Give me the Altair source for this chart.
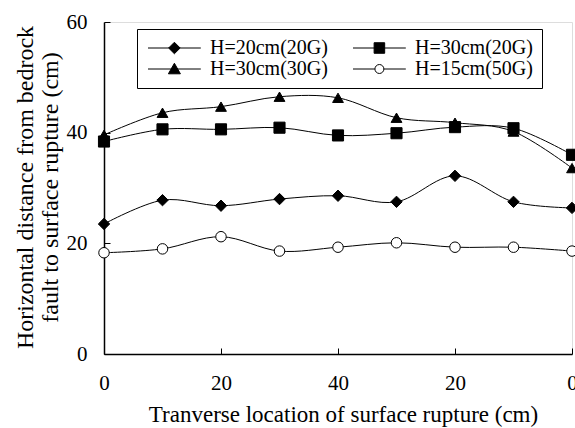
import altair as alt
import pandas as pd

x_pos = [0, 10, 20, 30, 40, 50, 60, 70, 80]
series_names = ["H=20cm(20G)", "H=30cm(20G)", "H=30cm(30G)", "H=15cm(50G)"]
h20_g20 = [23.5, 27.8, 26.8, 28.0, 28.6, 27.5, 32.2, 27.5, 26.4]
h30_g20 = [38.4, 40.6, 40.6, 40.9, 39.5, 39.9, 41.0, 40.8, 36.0]
h30_g30 = [39.6, 43.6, 44.7, 46.5, 46.3, 42.7, 41.8, 40.2, 33.6]
h15_g50 = [18.3, 19.0, 21.2, 18.6, 19.3, 20.1, 19.3, 19.3, 18.6]
x_ticks = [0, 20, 40, 60, 80]
y_ticks = [0, 20, 40, 60]

rows = []
for name, vals in zip(series_names, [h20_g20, h30_g20, h30_g30, h15_g50]):
    for xv, yv in zip(x_pos, vals):
        rows.append({"x": xv, "y": yv, "series": name})
df = pd.DataFrame(rows)

FONT = "Liberation Serif"

plain_shapes = ["diamond", "square", "triangle-up", "circle"]
fills = ["black", "black", "black", "white"]
strokes = ["black", "black", "black", "black"]
sizes = [130, 110, 140, 81]

legend_shapes = [
    "M-1,0L5.6,0M1.58,0L2.3,-0.72L3.02,0L2.3,0.72Z",
    "M-1,0L5.6,0M1.64,-0.66L2.96,-0.66L2.96,0.66L1.64,0.66Z",
    "M-1,0L5.6,0M2.3,-0.72L3.05,0.6L1.55,0.6Z",
    "M-1,0L1.74,0M2.86,0L5.6,0M2.86,0A0.56,0.56 0 1,1 1.74,0A0.56,0.56 0 1,1 2.86,0Z",
]

axis_common = dict(
    grid=False, domainColor="black", domainWidth=1.5, tickColor="black", tickWidth=1,
    tickSize=alt.ExprRef("-6"), labelFlush=False,
    labelFont=FONT, labelFontSize=21, labelColor="black",
    titleFont=FONT, titleFontWeight="normal", titleColor="black",
)

xenc = alt.X("x:Q", scale=alt.Scale(domain=[0, 80], nice=False),
             axis=alt.Axis(values=x_ticks,
                           labelExpr="datum.value <= 40 ? datum.value : 80 - datum.value",
                           title="Tranverse location of surface rupture (cm)",
                           labelPadding=24, titleX=239, titleY=60,
                           titleBaseline="middle", titleFontSize=23, **axis_common))
yenc = alt.Y("y:Q", scale=alt.Scale(domain=[0, 60], nice=False),
             axis=alt.Axis(values=y_ticks,
                           title=["Horizontal distance from bedrock", "fault to surface rupture (cm)"],
                           labelPadding=23, titleX=-79, titleY=165, titleAngle=270,
                           titleBaseline="middle", titleLineHeight=25, titleFontSize=24,
                           **axis_common))

base = alt.Chart(df)

lines = base.mark_line(color="black", strokeWidth=1, interpolate="cardinal").encode(
    x=xenc, y=yenc, detail="series:N")

points = base.mark_point(filled=True, opacity=1, stroke="black", strokeWidth=1).encode(
    x=xenc, y=yenc,
    shape=alt.Shape("series:N", scale=alt.Scale(domain=series_names, range=plain_shapes), legend=None),
    fill=alt.Fill("series:N", scale=alt.Scale(domain=series_names, range=fills), legend=None),
    size=alt.Size("series:N", scale=alt.Scale(domain=series_names, range=sizes), legend=None),
)

leg = alt.Legend(title=None, orient="none", legendX=33, legendY=7, direction="horizontal", columns=2,
                 symbolSize=256, symbolStrokeWidth=1,
                 labelOffset=44, columnPadding=23, rowPadding=1, padding=9,
                 strokeColor="black", fillColor="white",
                 labelFont=FONT, labelFontSize=20, labelColor="black", labelLimit=300)

legend_layer = base.mark_point(filled=False, opacity=1, strokeWidth=1, size=0).encode(
    x=xenc, y=yenc,
    shape=alt.Shape("series:N", scale=alt.Scale(domain=series_names, range=legend_shapes), legend=leg),
    fill=alt.Fill("series:N", scale=alt.Scale(domain=series_names, range=fills), legend=leg),
    stroke=alt.Stroke("series:N", scale=alt.Scale(domain=series_names, range=strokes), legend=leg),
)

chart = alt.layer(legend_layer, lines, points).resolve_scale(
    shape="independent", fill="independent", stroke="independent"
).properties(
    width=468, height=332,
    autosize=alt.AutoSizeParams(type="none"),
    padding={"left": 104, "top": 22, "right": 3, "bottom": 74},
).configure_view(
    stroke="#555555", strokeWidth=1
).configure(background="white")

chart.save("out.html", embed_options={"renderer": "svg", "actions": False})
